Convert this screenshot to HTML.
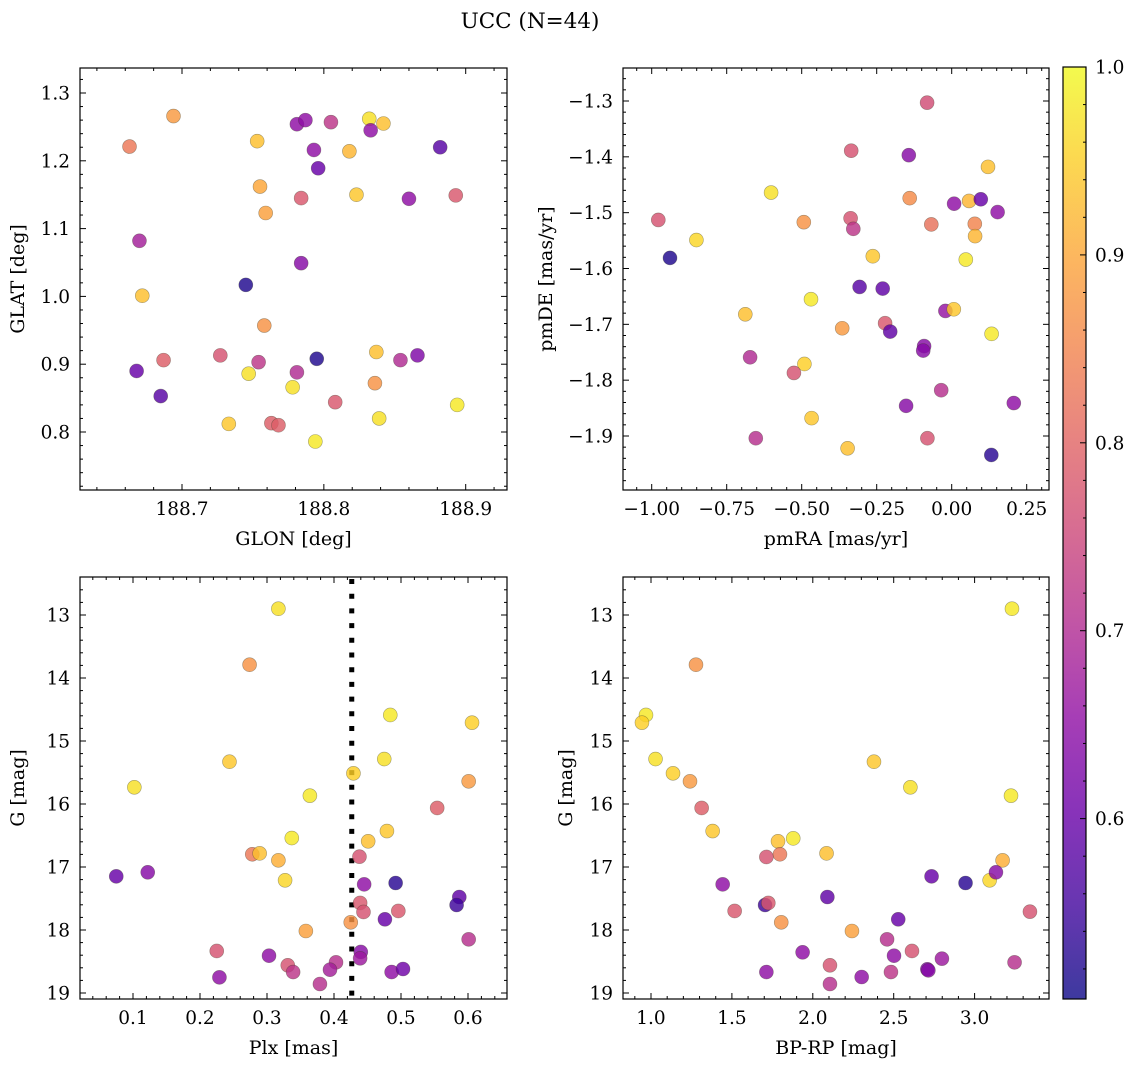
<!DOCTYPE html>
<html><head><meta charset="utf-8">
<style>
html,body{margin:0;padding:0;background:#fff;}
svg{display:block;font-family:"DejaVu Serif","Liberation Serif",serif;}
</style></head>
<body>
<svg id="fig" width="1136" height="1067" viewBox="0 0 1136 1067" xmlns="http://www.w3.org/2000/svg">
<rect width="1136" height="1067" fill="#fff"/>
<text x="530" y="28" font-size="21.5" text-anchor="middle">UCC (N=44)</text>
</svg>
<script>
// ---- data ----
const p1x=[188.694,188.663,188.753,188.781,188.787,188.805,188.832,188.842,188.833,188.793,188.818,188.882,188.796,188.755,188.784,188.823,188.860,188.893,188.759,188.670,188.784,188.745,188.672,188.758,188.727,188.687,188.668,188.754,188.747,188.781,188.795,188.837,188.854,188.866,188.778,188.836,188.685,188.808,188.894,188.733,188.763,188.768,188.839,188.794];
const p1y=[1.266,1.221,1.229,1.254,1.260,1.257,1.262,1.255,1.245,1.216,1.214,1.220,1.189,1.162,1.145,1.150,1.144,1.149,1.123,1.082,1.049,1.017,1.001,0.957,0.913,0.906,0.890,0.903,0.886,0.888,0.908,0.918,0.906,0.913,0.866,0.872,0.853,0.844,0.840,0.812,0.813,0.810,0.820,0.786];
const p1c=[.88,.83,.93,.65,.65,.72,.97,.93,.65,.65,.92,.58,.6,.9,.78,.94,.65,.78,.89,.68,.64,.52,.93,.87,.77,.79,.6,.72,.97,.7,.52,.93,.7,.63,.97,.87,.58,.78,.98,.94,.79,.79,.97,.98];

const p2x=[-0.082,-0.335,-0.143,0.121,-0.602,-0.140,0.008,0.058,0.097,0.153,-0.978,-0.493,-0.337,-0.328,-0.068,0.077,0.078,-0.851,-0.939,-0.263,0.047,-0.307,-0.230,-0.469,-0.688,-0.021,0.007,-0.222,-0.205,-0.365,0.133,-0.092,-0.095,-0.672,-0.491,-0.526,-0.035,-0.152,0.207,-0.467,-0.653,-0.081,-0.347,0.132];
const p2y=[-1.303,-1.389,-1.397,-1.418,-1.464,-1.474,-1.484,-1.479,-1.476,-1.499,-1.513,-1.517,-1.510,-1.529,-1.521,-1.520,-1.542,-1.549,-1.581,-1.578,-1.584,-1.633,-1.636,-1.655,-1.682,-1.676,-1.673,-1.698,-1.713,-1.707,-1.717,-1.739,-1.747,-1.759,-1.771,-1.787,-1.818,-1.846,-1.841,-1.868,-1.904,-1.904,-1.922,-1.934];
const p2c=[.76,.77,.64,.93,.97,.86,.65,.92,.6,.65,.77,.87,.77,.72,.82,.85,.92,.96,.52,.94,.98,.58,.59,.98,.93,.66,.94,.78,.59,.88,.98,.64,.64,.7,.95,.77,.71,.64,.65,.94,.71,.77,.93,.53];

const p3x=[0.317,0.274,0.484,0.606,0.244,0.475,0.429,0.601,0.102,0.364,0.554,0.479,0.451,0.337,0.278,0.289,0.438,0.317,0.327,0.075,0.122,0.445,0.492,0.587,0.583,0.439,0.444,0.496,0.476,0.425,0.358,0.601,0.225,0.440,0.439,0.303,0.331,0.339,0.403,0.394,0.229,0.379,0.486,0.503];
const p3y=[12.90,13.789,14.587,14.709,15.329,15.286,15.513,15.640,15.735,15.868,16.063,16.429,16.592,16.540,16.798,16.783,16.836,16.894,17.211,17.148,17.084,17.275,17.254,17.476,17.603,17.571,17.714,17.698,17.830,17.878,18.016,18.148,18.333,18.349,18.449,18.408,18.560,18.667,18.513,18.630,18.751,18.857,18.667,18.619];
const p3c=[.97,.87,.98,.95,.94,.97,.95,.88,.97,.98,.79,.94,.93,.98,.83,.93,.77,.91,.96,.6,.64,.65,.53,.59,.55,.78,.77,.78,.6,.87,.89,.71,.77,.64,.67,.65,.77,.72,.71,.68,.65,.71,.65,.61];
const plxCut=0.4265;

const p4x=[3.231,1.278,0.969,0.944,1.028,1.136,1.241,2.378,2.603,3.225,1.313,1.381,1.785,1.879,1.797,1.713,2.085,3.173,3.093,3.132,2.734,2.944,1.443,2.090,1.705,1.725,1.517,3.342,2.528,1.805,2.242,2.459,2.613,2.502,1.937,2.798,2.106,3.247,2.708,2.483,1.713,2.302,2.106,2.714];
const p4y=[12.90,13.789,14.587,14.709,15.286,15.513,15.640,15.329,15.735,15.868,16.063,16.429,16.592,16.545,16.798,16.841,16.783,16.894,17.211,17.084,17.148,17.254,17.275,17.476,17.603,17.571,17.698,17.709,17.830,17.878,18.016,18.148,18.333,18.408,18.354,18.455,18.560,18.513,18.624,18.667,18.667,18.746,18.857,18.640];
const p4c=[.98,.87,.98,.95,.97,.95,.88,.94,.97,.98,.79,.94,.93,.98,.83,.77,.93,.91,.96,.64,.6,.53,.65,.59,.55,.78,.78,.77,.6,.87,.89,.71,.77,.65,.65,.67,.77,.71,.63,.72,.65,.65,.71,.64];

const cbarTicks=[0.6,0.7,0.8,0.9,1.0];

// ---- helpers ----
const NS="http://www.w3.org/2000/svg";
const svg=document.getElementById('fig');
const TF=18.5, LF=19;
function mk(tag,attrs,parent){const e=document.createElementNS(NS,tag);for(const k in attrs)e.setAttribute(k,attrs[k]);(parent||svg).appendChild(e);return e;}
function lin(a,pa,b,pb){const f=v=>pa+(v-a)*(pb-pa)/(b-a);f.inv=p=>a+(p-pa)*(b-a)/(pb-pa);return f;}
const stops=["#0d0887","#41049d","#6a00a8","#8f0da4","#b12a90","#cc4778","#e16462","#f2844b","#fca636","#fcce25","#f0f921"];
function hex(h){return [parseInt(h.slice(1,3),16),parseInt(h.slice(3,5),16),parseInt(h.slice(5,7),16)];}
const VMIN=0.504,VMAX=1.0;
function plasma(p){let t=(p-VMIN)/(VMAX-VMIN);t=Math.max(0,Math.min(1,t));const s=t*10,i=Math.min(9,Math.floor(s)),f=s-i;const a=hex(stops[i]),b=hex(stops[i+1]);return `rgb(${a.map((v,k)=>Math.round(v+(b[k]-v)*f)).join(',')})`;}
function fmt(v,d){let s=v.toFixed(d);if(v<0)s='\u2212'+s.slice(1);return s;}

function panel(o){
  const g=mk('g',{});
  
  
  const {L,R,T,B}=o;
  const xs=o.xs, ys=o.ys;
  const xmin=Math.min(xs.inv(L),xs.inv(R)),xmax=Math.max(xs.inv(L),xs.inv(R));
  const ymin=Math.min(ys.inv(T),ys.inv(B)),ymax=Math.max(ys.inv(T),ys.inv(B));
  const tg=mk('g',{stroke:'#000','stroke-width':1},g);
  
  
  for(let k=Math.ceil(xmin/o.xminor-1e-6);k*o.xminor<=xmax+1e-9;k++){
    const v=k*o.xminor,px=xs(v);if(px<L+0.5||px>R-0.5)continue;
    const major=Math.abs(v/o.xmajor-Math.round(v/o.xmajor))<1e-6;const len=major?6:3;
    mk('line',{x1:px,x2:px,y1:B,y2:B-len},tg);mk('line',{x1:px,x2:px,y1:T,y2:T+len},tg);
    if(major){const t=mk('text',{x:px,y:B+25,'font-size':TF,'text-anchor':'middle',stroke:'none',fill:'#000'},g);t.textContent=fmt(v,o.xdec);
      }
  }
  for(let k=Math.ceil(ymin/o.yminor-1e-6);k*o.yminor<=ymax+1e-9;k++){
    const v=k*o.yminor,py=ys(v);if(py<T+0.5||py>B-0.5)continue;
    const major=Math.abs(v/o.ymajor-Math.round(v/o.ymajor))<1e-6;const len=major?6:3;
    mk('line',{x1:L,x2:L+len,y1:py,y2:py},tg);mk('line',{x1:R,x2:R-len,y1:py,y2:py},tg);
    if(major){const t=mk('text',{x:L-10,y:py+6.5,'font-size':TF,'text-anchor':'end',stroke:'none',fill:'#000'},g);t.textContent=fmt(v,o.ydec);
      }
  }
  if(o.extra)o.extra(g);
  const pg=mk('g',{},g);
  
  
  for(let i=0;i<o.x.length;i++){
    const c=mk('circle',{cx:xs(o.x[i]),cy:ys(o.y[i]),r:7,fill:plasma(o.c[i]),'fill-opacity':0.82,stroke:'rgba(60,60,40,0.45)','stroke-width':0.6},pg);
    
    
  }
  const fr=mk('rect',{x:L,y:T,width:R-L,height:B-T,fill:'none',stroke:'#000','stroke-width':1.2},g);
  
  
  const xl=mk('text',{x:(L+R)/2,y:B+55,'font-size':LF,'text-anchor':'middle'},g);xl.textContent=o.xlabel;
  
  const yl=mk('text',{x:0,y:0,'font-size':LF,'text-anchor':'middle',transform:`translate(${o.ylx},${(T+B)/2}) rotate(-90)`},g);yl.textContent=o.ylabel;
  
}

panel({name:'glon-glat-panel',L:80,R:507,T:68,B:490,xs:lin(188.7,182,188.9,465.7),ys:lin(1.3,93,0.8,432),
  xmajor:0.1,xminor:0.02,ymajor:0.1,yminor:0.02,xdec:1,ydec:1,x:p1x,y:p1y,c:p1c,xlabel:'GLON [deg]',ylabel:'GLAT [deg]',ylx:24});
panel({name:'pm-panel',L:623,R:1049,T:68,B:490,xs:lin(-1.0,651.7,0.25,1026.7),ys:lin(-1.3,101,-1.9,436),
  xmajor:0.25,xminor:0.05,ymajor:0.1,yminor:0.02,xdec:2,ydec:1,x:p2x,y:p2y,c:p2c,xlabel:'pmRA [mas/yr]',ylabel:'pmDE [mas/yr]',ylx:552});
const xs3=lin(0.1,133,0.6,468);
panel({name:'plx-g-panel',L:80,R:507,T:577,B:999,xs:xs3,ys:lin(13,615,19,993),
  xmajor:0.1,xminor:0.02,ymajor:1,yminor:0.2,xdec:1,ydec:0,x:p3x,y:p3y,c:p3c,xlabel:'Plx [mas]',ylabel:'G [mag]',ylx:24,
  extra:g=>{const l=mk('line',{x1:xs3(plxCut),x2:xs3(plxCut),y1:579,y2:999,stroke:'#000','stroke-width':5,'stroke-dasharray':'5 9.7'},g);
    }});
panel({name:'cmd-panel',L:623,R:1049,T:577,B:999,xs:lin(1.0,651,3.0,974.6),ys:lin(13,615,19,993),
  xmajor:0.5,xminor:0.1,ymajor:1,yminor:0.2,xdec:1,ydec:0,x:p4x,y:p4y,c:p4c,xlabel:'BP-RP [mag]',ylabel:'G [mag]',ylx:572});

// colorbar
const cb=mk('g',{});


const defs=mk('defs',{},cb);
const grad=mk('linearGradient',{id:'cg',x1:0,y1:1,x2:0,y2:0},defs);
stops.forEach((s,i)=>mk('stop',{offset:i/10,'stop-color':s},grad));
const CT=67,CB=999,CL=1063,CR=1086;
const cs=lin(VMIN,CB,VMAX,CT);
const bar=mk('rect',{x:CL,y:CT,width:CR-CL,height:CB-CT,fill:'url(#cg)','fill-opacity':0.8},cb);


for(let k=Math.ceil(VMIN/0.02);k*0.02<=VMAX+1e-9;k++){
  const v=k*0.02,py=cs(v);if(py<CT+0.5)continue;
  const major=Math.abs(v*10-Math.round(v*10))<1e-6;
  mk('line',{x1:CR,x2:CR-(major?6:3),y1:py,y2:py,stroke:'#000','stroke-width':1},cb);
}
cbarTicks.forEach(v=>{const t=mk('text',{x:CR+9,y:cs(v)+6.5,'font-size':TF},cb);t.textContent=v.toFixed(1);
  });
mk('rect',{x:CL,y:CT,width:CR-CL,height:CB-CT,fill:'none',stroke:'#000','stroke-width':1.2},cb);
</script>
</body></html>
